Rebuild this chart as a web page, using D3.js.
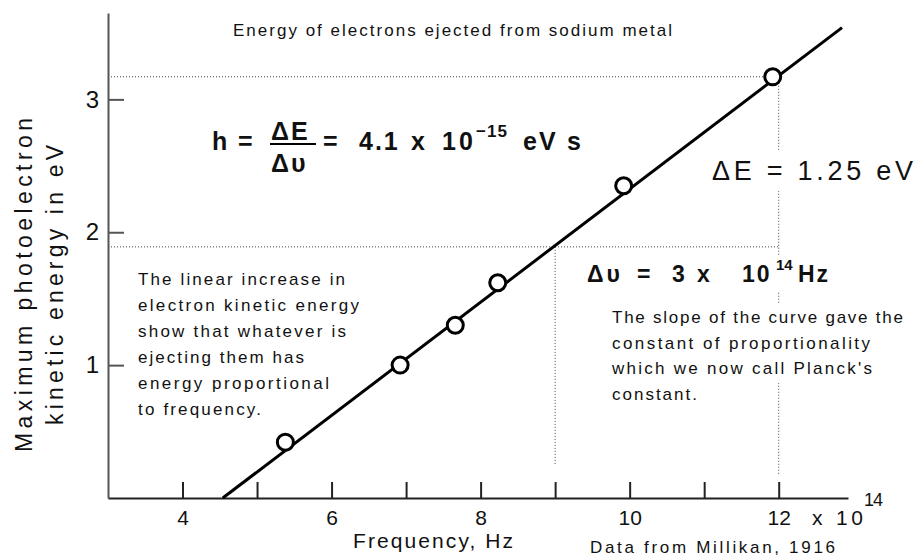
<!DOCTYPE html>
<html lang="en">
	<head>
		<meta charset="UTF-8"/>
		<title>Energy of electrons ejected from sodium metal</title>
		<script type="text/javascript" src="https://cdn.jsdelivr.net/npm/d3@7"></script>
		<style>
			body { margin: 0; background: #fff; }
			text { font-family: "Liberation Sans", Arial, sans-serif; fill: #111; }
		</style>
	</head>
	<body>
		<script type="text/javascript">
			// Millikan's sodium data, frequency in units of 10^14 Hz, energy in eV
			var freq = [5.38, 6.92, 7.66, 8.23, 9.92, 11.92];
			var energy = [0.42, 1.00, 1.30, 1.62, 2.35, 3.17];

			// fitted straight line, end points
			var fitFreq = [4.54, 12.85];
			var fitEnergy = [0, 3.54];

			// dotted construction lines for the slope
			var refLow = [9, 1.89];
			var refHigh = [12, 3.17];

			var xTicks = [4, 5, 6, 7, 8, 9, 10, 11, 12];
			var yTicks = [1, 2, 3];

			var w = 918;
			var h = 556;

			var svg = d3.select("body")
				.append("svg")
				.attr("width", w)
				.attr("height", h);

			var xScale = d3.scaleLinear()
				.domain([3, 12.93])
				.range([108, 848]);

			var yScale = d3.scaleLinear()
				.domain([0, 3.65])
				.range([498, 13]);

			// dotted lines
			var dots = svg.append("g")
				.attr("stroke", "#444")
				.attr("stroke-width", 1)
				.attr("stroke-dasharray", "1,2");

			dots.append("line")
				.attr("x1", xScale(3)).attr("x2", xScale(refHigh[0]))
				.attr("y1", yScale(refHigh[1])).attr("y2", yScale(refHigh[1]));
			dots.append("line")
				.attr("x1", xScale(3)).attr("x2", xScale(refHigh[0]))
				.attr("y1", yScale(refLow[1])).attr("y2", yScale(refLow[1]));
			dots.append("line")
				.attr("x1", xScale(refHigh[0])).attr("x2", xScale(refHigh[0]))
				.attr("y1", yScale(refHigh[1])).attr("y2", yScale(0.17));
			dots.append("line")
				.attr("x1", xScale(refLow[0])).attr("x2", xScale(refLow[0]))
				.attr("y1", yScale(refLow[1])).attr("y2", yScale(0.25));

			// axes
			var xAxis = d3.axisBottom()
				.scale(xScale)
				.tickValues(xTicks)
				.tickSizeInner(-16)
				.tickSizeOuter(0)
				.tickPadding(12)
				.tickFormat(function(d) { return d % 2 === 0 ? d : ""; });

			var yAxis = d3.axisLeft()
				.scale(yScale)
				.tickValues(yTicks)
				.tickSizeInner(-16)
				.tickSizeOuter(0)
				.tickPadding(9)
				.tickFormat(d3.format("d"));

			var gx = svg.append("g")
				.attr("transform", "translate(0," + yScale(0) + ")")
				.call(xAxis);
			gx.selectAll("path, line").attr("stroke", "#222").attr("stroke-width", 2);
			gx.selectAll("text")
				.attr("font-size", "21px")
				.attr("font-family", "Liberation Sans, Arial, sans-serif")
				.attr("fill", "#222");

			var gy = svg.append("g")
				.attr("transform", "translate(" + xScale(3) + ",0)")
				.call(yAxis);
			gy.selectAll("path, line").attr("stroke", "#555").attr("stroke-width", 2);
			gy.selectAll("text")
				.attr("font-size", "24px")
				.attr("font-family", "Liberation Sans, Arial, sans-serif")
				.attr("fill", "#333");

			// fitted line
			var fit = d3.line()
				.x(function(d) { return xScale(d[0]); })
				.y(function(d) { return yScale(d[1]); });

			svg.append("path")
				.datum(d3.zip(fitFreq, fitEnergy))
				.attr("d", fit)
				.attr("fill", "none")
				.attr("stroke", "#000")
				.attr("stroke-width", 3);

			svg.selectAll("circle")
				.data(d3.zip(freq, energy))
				.enter()
				.append("circle")
				.attr("cx", function(d) { return xScale(d[0]); })
				.attr("cy", function(d) { return yScale(d[1]); })
				.attr("r", 8)
				.attr("fill", "#fff")
				.attr("stroke", "#000")
				.attr("stroke-width", 3);

			// text helper: white box behind so dotted lines break around it
			function label(x, y, str, size, len, weight, boxed) {
				var t = svg.append("text")
					.attr("x", x)
					.attr("y", y)
					.attr("font-size", size + "px")
					.attr("font-weight", weight || "normal")
					.text(str);
				if (len) t.attr("textLength", len).attr("lengthAdjust", "spacing");
				if (boxed) {
					var b = t.node().getBBox();
					svg.insert("rect", function() { return t.node(); })
						.attr("x", b.x - 4).attr("y", b.y - 5)
						.attr("width", b.width + 8).attr("height", b.height + 10)
						.attr("fill", "#fff");
				}
				return t;
			}

			// pieces of a formula: [x, text, dy, size, letter spacing]
			function formula(pieces, y, size, weight) {
				var g = svg.append("g")
					.attr("font-size", size + "px")
					.attr("font-weight", weight);
				pieces.forEach(function(p) {
					g.append("text")
						.attr("x", p[0])
						.attr("y", y + (p[2] || 0))
						.attr("font-size", p[3] ? p[3] + "px" : null)
						.attr("letter-spacing", p[4] ? p[4] + "px" : null)
						.text(p[1]);
				});
				return g;
			}

			label(233, 36, "Energy of electrons ejected from sodium metal", 17, 439).attr("fill", "#222");

			// y axis title, two lines
			svg.append("text")
				.attr("transform", "translate(32,285) rotate(-90)")
				.attr("text-anchor", "middle")
				.attr("font-size", "23px")
				.attr("textLength", 334).attr("lengthAdjust", "spacing")
				.attr("fill", "#333")
				.text("Maximum photoelectron");
			svg.append("text")
				.attr("transform", "translate(63,285) rotate(-90)")
				.attr("text-anchor", "middle")
				.attr("font-size", "23px")
				.attr("textLength", 280).attr("lengthAdjust", "spacing")
				.attr("fill", "#333")
				.text("kinetic energy in eV");

			label(353, 548, "Frequency, Hz", 21, 160).attr("fill", "#333");
			label(590, 553, "Data from Millikan, 1916", 17, 245).attr("fill", "#333");
			label(812, 525, "x", 21).attr("fill", "#333");
			label(836, 525, "10", 21, 27).attr("fill", "#333");
			label(864, 506, "14", 18, 19).attr("fill", "#333");

			// Planck equation
			formula([
				[212, "h"], [238, "="],
				[271, "\u0394E", -10, null, 2], [271, "\u0394\u03c5", 22, null, 2],
				[323, "="], [359, "4.1", 0, null, 2], [411, "x"], [442, "10", 0, null, 3],
				[476, "\u221215", -13, 17, 1],
				[523, "eV", 0, null, 2], [567, "s"]
			], 150, 25, "bold");
			svg.append("line")
				.attr("x1", 270).attr("x2", 316)
				.attr("y1", 144).attr("y2", 144)
				.attr("stroke", "#000").attr("stroke-width", 2);

			label(712, 180, "\u0394E = 1.25 eV", 27, 201, "normal", true);

			// delta nu line, white box first so the dotted line is broken
			svg.append("rect")
				.attr("x", 582).attr("y", 256)
				.attr("width", 254).attr("height", 36)
				.attr("fill", "#fff");
			formula([
				[587, "\u0394\u03c5", 0, null, 3], [637, "="], [672, "3"], [697, "x"],
				[742, "10", 0, null, 2], [776, "14", -12, 15], [798, "Hz", 0, null, 2]
			], 282, 23, "bold");

			var leftPara = ["The linear increase in", "electron kinetic energy", "show that whatever is",
				"ejecting them has", "energy proportional", "to frequency."];
			var leftLen = [207, 221, 208, 166, 191, 123];
			leftPara.forEach(function(s, i) {
				label(138, 285 + i * 26, s, 17, leftLen[i]).attr("fill", "#222");
			});

			var rightPara = ["The slope of the curve gave the", "constant of proportionality",
				"which we now call Planck's", "constant."];
			var rightLen = [291, 258, 260, 85];
			rightPara.forEach(function(s, i) {
				label(612, 323 + i * 25.5, s, 17, rightLen[i], "normal", true).attr("fill", "#222");
			});
		</script>
	</body>
</html>
